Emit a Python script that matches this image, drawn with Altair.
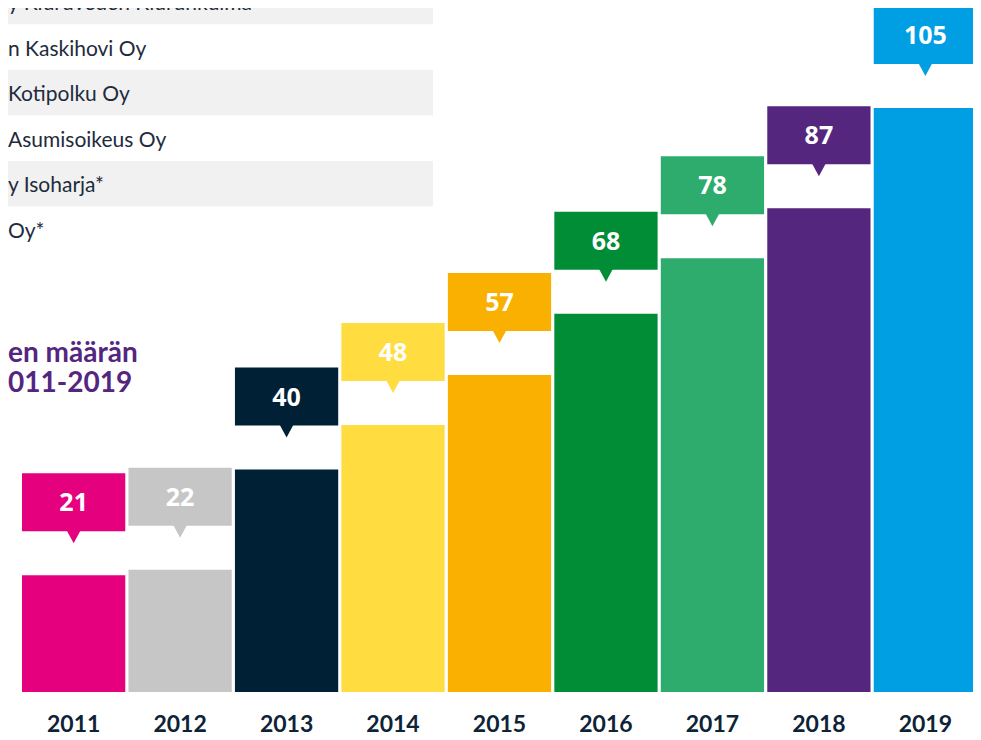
import altair as alt
import pandas as pd

# ---- data ----
years = ["2011", "2012", "2013", "2014", "2015", "2016", "2017", "2018", "2019"]
counts = [21, 22, 40, 48, 57, 68, 78, 87, 105]
bar_colors = ["#e5007e", "#c6c6c6", "#002035", "#ffdd40", "#f9b000",
              "#008d36", "#2eac6e", "#55267e", "#009fe3"]
companies = ["y Kiuruveden Kiurunkulma", "n Kaskihovi Oy", "Kotipolku Oy",
             "Asumisoikeus Oy", "y Isoharja*", "Oy*"]
title_lines = ["en määrän", "011-2019"]

bars_df = pd.DataFrame({"year": years, "value": counts})
rows_df = pd.DataFrame({"row": list(range(len(companies))), "name": companies})

# ---- encodings ----
x_enc = alt.X(
    "year:O",
    scale=alt.Scale(type="band", domain=years, range=[14, 969],
                    paddingInner=0.03, paddingOuter=0, round=False),
    axis=alt.Axis(title=None, labelAngle=0, ticks=False, tickSize=0,
                  domain=False, grid=False, labelFont="Lato",
                  labelFontWeight="bold", labelFontSize=23,
                  labelColor="#0e2336", labelPadding=39,
                  labelBaseline="alphabetic"),
)
y_scale = alt.Scale(domain=[0, 123], nice=False, zero=True)
y_enc = alt.Y("value:Q", scale=y_scale, axis=None)
color_enc = alt.Color("year:N", scale=alt.Scale(domain=years, range=bar_colors),
                      legend=None)

base = alt.Chart(bars_df)

bars = base.mark_bar().encode(x=x_enc, y=y_enc, color=color_enc)

boxes = base.mark_bar(yOffset=-44, y2Offset=-102).encode(
    x=x_enc, y=y_enc, y2=alt.Y2("value:Q"), color=color_enc)

pointers = base.mark_point(
    shape="M-1,-1L1,-1L0,0.857Z", size=196, filled=True, opacity=1,
    strokeWidth=0, yOffset=-38,
).encode(x=x_enc, y=y_enc, color=color_enc)

labels = base.mark_text(
    font="Open Sans", fontWeight="bold", fontSize=25, color="white",
    baseline="alphabetic", align="center", yOffset=-64,
).encode(x=x_enc, y=y_enc, text=alt.Text("value:Q"))

bar_layer = alt.layer(bars, boxes, pointers, labels)

# ---- company list ----
row_y = alt.Y("row:O", scale=alt.Scale(type="band", domain=list(range(len(companies))),
                                        range=[-29.3, 244], paddingInner=0,
                                        paddingOuter=0, round=False), axis=None)
row_bg = alt.Chart(rows_df).transform_filter("datum.row % 2 == 0").mark_rect(
    color="#f1f1f1").encode(y=row_y, x=alt.value(0), x2=alt.value(425))
row_text = alt.Chart(rows_df).mark_text(
    font="Lato", fontSize=21, color="#1e2b3c", align="left",
    baseline="alphabetic", dy=8.5,
).encode(y=row_y, x=alt.value(0), text="name:N")
list_layer = alt.layer(row_bg, row_text)

# ---- partial title ----
title_text = alt.Chart(pd.DataFrame({"d": [0]})).mark_text(
    text=title_lines, font="Lato", fontWeight="bold", fontSize=28,
    color="#55267f", align="left", baseline="alphabetic", lineHeight=30,
).encode(x=alt.value(0), y=alt.value(354))

chart = alt.layer(list_layer, title_text, bar_layer).resolve_scale(
    y="independent"
).properties(
    width=965, height=684,
    autosize=alt.AutoSizeParams(type="none"),
    padding={"left": 0, "top": 0, "right": 0, "bottom": 40},
    background="white",
).configure_view(stroke=None)

chart.save("out.html", embed_options={"renderer": "svg", "actions": False})
